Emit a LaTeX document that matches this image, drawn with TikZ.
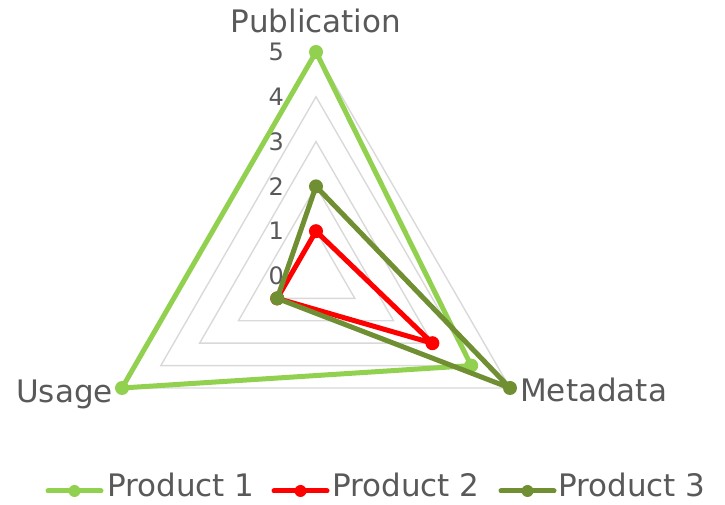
\documentclass[tikz,border=0pt]{standalone}
\usepackage{fontspec}
\setmainfont{DejaVu Sans}
\usetikzlibrary{calc}
\definecolor{txtgray}{HTML}{595959}
\definecolor{gridgray}{HTML}{D9D9D9}
\definecolor{prodone}{HTML}{92D050}
\definecolor{prodtwo}{HTML}{FF0000}
\definecolor{prodthree}{HTML}{6F8F32}
\tikzset{
  gridline/.style={draw=gridgray, line width=1.4pt},
  series/.style={line width=5pt, line join=round, line cap=round},
  dot/.style={circle, fill=#1, inner sep=0pt, minimum size=14pt},
  ticklabel/.style={anchor=east, inner sep=0pt, text=txtgray, font=\fontsize{24}{24}\selectfont},
  catlabel/.style={inner sep=0pt, text=txtgray, font=\fontsize{31}{31}\selectfont},
  legtext/.style={anchor=base west, inner sep=0pt, text=txtgray, font=\fontsize{31}{31}\selectfont},
}
\begin{document}
\begin{tikzpicture}[x=1pt, y=1pt]
  \useasboundingbox (0,0) rectangle (725,505);
  \def\u{44.8}
  \coordinate (c) at (316,229);

  % concentric grid triangles, levels 1..5
  \foreach \k in {1,...,5} {
    \draw[gridline] ($(c)+(90:\k*\u)$) -- ($(c)+(-30:\k*\u)$) -- ($(c)+(210:\k*\u)$) -- cycle;
  }

  % value labels along the Publication axis
  \foreach \k in {0,...,5} {
    \node[ticklabel] (t\k) at ($(c)+(-32,\k*\u)$) {\k};
  }

  % category labels
  \node[catlabel, anchor=base] (pub) at (316,472) {Publication};
  \node[catlabel, anchor=base west] (meta) at (520,103) {Metadata};
  \node[catlabel, anchor=base east] (usage) at (113,102) {Usage};

  % data points: Publication / Metadata / Usage
  \coordinate (a1) at ($(c)+(90:5*\u)$);
  \coordinate (b1) at ($(c)+(-30:4*\u)$);
  \coordinate (c1) at ($(c)+(210:5*\u)$);
  \coordinate (a2) at ($(c)+(90:1*\u)$);
  \coordinate (b2) at ($(c)+(-30:3*\u)$);
  \coordinate (c2) at ($(c)+(210:1*\u)$);
  \coordinate (a3) at ($(c)+(90:2*\u)$);
  \coordinate (b3) at ($(c)+(-30:5*\u)$);
  \coordinate (c3) at ($(c)+(210:1*\u)$);

  % series drawn in order, markers on top of each outline
  \draw[series, prodone] (a1) -- (b1) -- (c1) -- cycle;
  \foreach \p in {a1,b1,c1} \node[dot=prodone] (m\p) at (\p) {};
  \draw[series, prodtwo] (a2) -- (b2) -- (c2) -- cycle;
  \foreach \p in {a2,b2,c2} \node[dot=prodtwo] (m\p) at (\p) {};
  \draw[series, prodthree] (a3) -- (b3) -- (c3) -- cycle;
  \foreach \p in {a3,b3,c3} \node[dot=prodthree] (m\p) at (\p) {};

  % legend
  \coordinate (l1s) at (48,14);  \coordinate (l1e) at (101,14);
  \coordinate (l2s) at (274,14); \coordinate (l2e) at (327,14);
  \coordinate (l3s) at (501,14); \coordinate (l3e) at (554,14);
  \draw[series, prodone] (l1s) -- (l1e);
  \node[dot=prodone, minimum size=12pt] (k1) at ($(l1s)!0.5!(l1e)$) {};
  \node[legtext] (g1) at (107,8) {Product 1};
  \draw[series, prodtwo] (l2s) -- (l2e);
  \node[dot=prodtwo, minimum size=12pt] (k2) at ($(l2s)!0.5!(l2e)$) {};
  \node[legtext] (g2) at (332,8) {Product 2};
  \draw[series, prodthree] (l3s) -- (l3e);
  \node[dot=prodthree, minimum size=12pt] (k3) at ($(l3s)!0.5!(l3e)$) {};
  \node[legtext] (g3) at (558,8) {Product 3};
\end{tikzpicture}
\end{document}
